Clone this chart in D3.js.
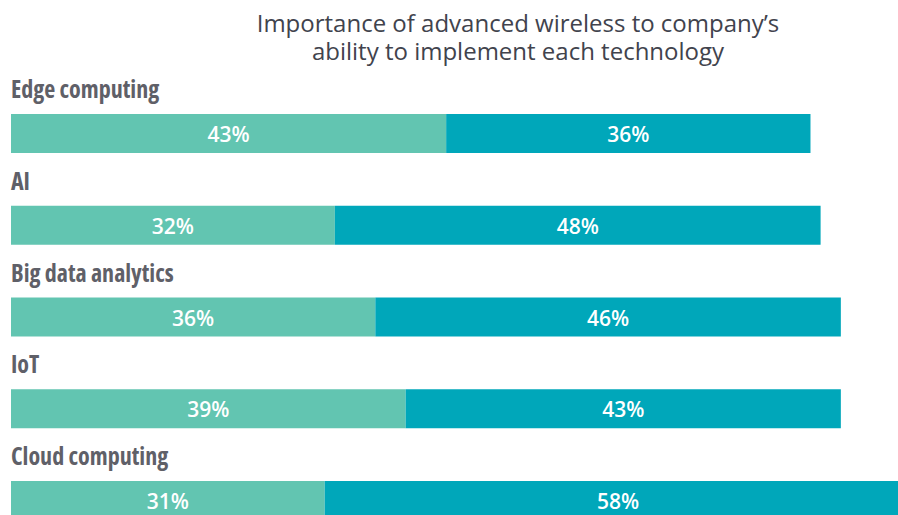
<!DOCTYPE html>
<html>
<head>
<meta charset="utf-8">
<script src="https://cdn.jsdelivr.net/npm/d3@7"></script>
<style>
  html, body { margin: 0; padding: 0; background: #fff; }
  svg { display: block; }
</style>
</head>
<body>
<svg id="chart" width="898" height="515"></svg>
<script>
const categories = ["Edge computing", "AI", "Big data analytics", "IoT", "Cloud computing"];
const seriesA = [43, 32, 36, 39, 31];
const seriesB = [36, 48, 46, 43, 58];
const titleLines = ["Importance of advanced wireless to company\u2019s", "ability to implement each technology"];

const svg = d3.select("#chart");
const colorA = "#62c5b1", colorB = "#00a7ba";

const x = d3.scaleLinear().domain([0, 100]).range([11, 1023]);
const y = d3.scaleBand().domain(categories).range([114, 520]).paddingInner(0.575).paddingOuter(0);

// Title
svg.append("g").selectAll("text").data(titleLines).join("text")
  .attr("x", 518)
  .attr("y", (d, i) => 32 + i * 28)
  .attr("text-anchor", "middle")
  .style("font-family", "'Open Sans', sans-serif")
  .style("font-weight", 400)
  .style("font-size", "24px")
  .style("fill", "#41434d")
  .text(d => d);

const rows = categories.map((c, i) => ({c, a: seriesA[i], b: seriesB[i]}));

const g = svg.append("g");
const row = g.selectAll("g.row").data(rows).join("g").attr("class", "row");

row.append("text")
  .attr("x", 11)
  .attr("y", d => y(d.c) - 16)
  .style("font-family", "'Open Sans', sans-serif")
  .style("font-weight", 700)
  .style("font-stretch", "75%")
  .style("font-size", "24px")
  .style("fill", "#5f6068")
  .text(d => d.c);

row.append("rect")
  .attr("x", x(0))
  .attr("y", d => y(d.c))
  .attr("width", d => x(d.a) - x(0))
  .attr("height", y.bandwidth())
  .attr("fill", colorA);

row.append("rect")
  .attr("x", d => x(d.a))
  .attr("y", d => y(d.c))
  .attr("width", d => x(d.a + d.b) - x(d.a))
  .attr("height", y.bandwidth())
  .attr("fill", colorB);

row.append("text")
  .attr("x", d => (x(0) + x(d.a)) / 2)
  .attr("y", d => y(d.c) + 28)
  .attr("text-anchor", "middle")
  .style("font-family", "'Open Sans', sans-serif")
  .style("font-weight", 600)
  .style("font-size", "21px")
  .style("fill", "#ffffff")
  .text(d => d.a + "%");

row.append("text")
  .attr("x", d => (x(d.a) + x(d.a + d.b)) / 2)
  .attr("y", d => y(d.c) + 28)
  .attr("text-anchor", "middle")
  .style("font-family", "'Open Sans', sans-serif")
  .style("font-weight", 600)
  .style("font-size", "21px")
  .style("fill", "#ffffff")
  .text(d => d.b + "%");
</script>
</body>
</html>
